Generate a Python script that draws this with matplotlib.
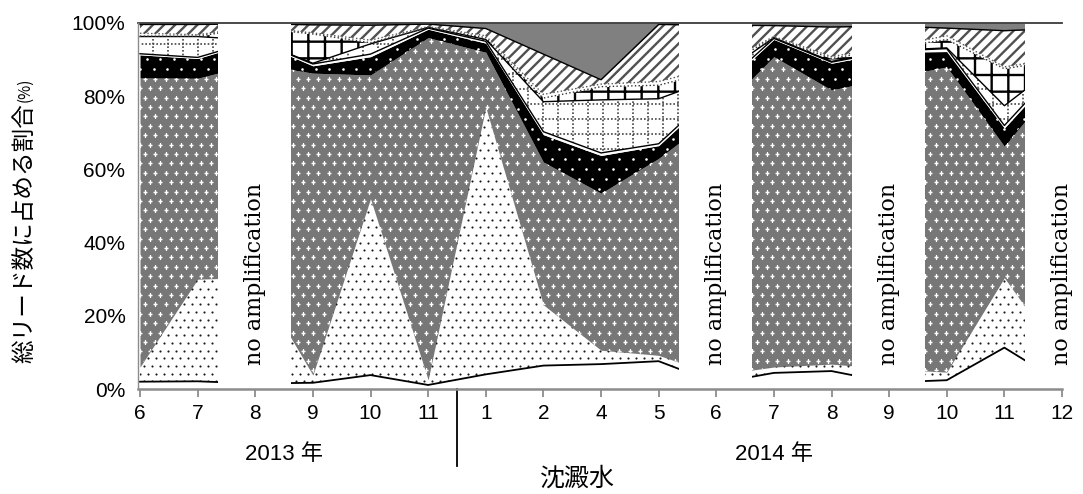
import numpy as np
import matplotlib
matplotlib.use("Agg")
import matplotlib.pyplot as plt
from matplotlib.collections import LineCollection

plt.rcParams["hatch.linewidth"] = 1.7

# ---- data -------------------------------------------------------------
months = ["6", "7", "8", "9", "10", "11", "1", "2", "4", "5",
          "6", "7", "8", "9", "10", "11", "12"]
years = ["2013 年", "2014 年"]
year_first = [0, 6]            # index of the first month of each year
no_amp = [2, 10, 13, 16]       # samples without amplification

# share of total reads (%) per taxon group, bottom to top of the stack
taxon_1 = [2.0, 2.1, 1.5, 1.7, 3.8, 1.1, 4.0, 6.4, 6.8, 7.6, 1.6, 4.4, 4.9, 1.8, 2.4, 11.3, 1.6]
taxon_2 = [4.0, 27.9, 29.0, 2.1, 48.2, 1.4, 73.0, 16.6, 3.8, 1.6, 2.2, 1.6, 1.9, 3.7, 2.2, 19.1, 6.7]
taxon_3 = [79.0, 54.9, 58.4, 82.5, 33.8, 93.5, 15.0, 39.0, 42.9, 53.8, 71.2, 84.8, 74.9, 79.5, 83.4, 35.9, 77.2]
taxon_4 = [6.3, 5.4, 6.1, 2.0, 5.0, 2.3, 2.5, 7.5, 10.3, 3.5, 6.0, 4.7, 7.3, 7.0, 4.2, 5.0, 3.0]
taxon_5 = [0.3, 0.3, 0.2, 0.5, 0.7, 0.3, 0.5, 0.8, 0.7, 0.5, 0.5, 0.3, 0.3, 0.3, 0.8, 0.7, 0.5]
taxon_6 = [4.7, 5.7, 0.1, 0.2, 2.8, 0.2, 0.5, 8.2, 14.5, 12.3, 3.5, 0.2, 0.2, 0.2, 0.2, 5.4, 0.5]
taxon_7 = [0.1, 0.1, 3.4, 8.0, 0.3, 0.0, 0.5, 1.0, 3.6, 3.7, 2.0, 0.0, 0.8, 0.5, 2.3, 10.1, 0.5]
taxon_8 = [0.8, 0.4, 0.2, 0.3, 0.7, 0.2, 0.5, 1.0, 0.7, 1.0, 1.0, 0.3, 0.5, 0.5, 1.0, 0.5, 0.5]
taxon_9 = [2.4, 2.8, 0.9, 2.2, 4.1, 0.7, 2.0, 11.0, 1.2, 15.6, 11.4, 3.0, 8.1, 5.7, 2.1, 9.9, 8.0]
taxon_10 = [0.4, 0.4, 0.2, 0.5, 0.6, 0.3, 1.5, 8.5, 15.5, 0.4, 0.6, 0.7, 1.1, 0.8, 1.4, 2.1, 1.5]

layers = [taxon_1, taxon_2, taxon_3, taxon_4, taxon_5,
          taxon_6, taxon_7, taxon_8, taxon_9, taxon_10]

# monochrome pattern fills, one per layer
#   marks: (marker, colour, size, dx px, dy px) on a staggered grid
#   grid:  (colour, line width, dash pattern, spacing px)
styles = [
    dict(fc="white", hc="black", hatch=None, marks=None, grid=None,
         line=("black", 1.3, "-")),
    dict(fc="white", hc="black", hatch=None, marks=("o", "#1a1a1a", 2.4, 8.0, 7.7),
         grid=None, line=None),
    dict(fc="#777777", hc="white", hatch=None, marks=("+", "white", 9, 10.2, 9.4),
         grid=None, line=None),
    dict(fc="black", hc="white", hatch=None, marks=("o", "white", 3.5, 13.5, 10.0),
         grid=None, line=None),
    dict(fc="white", hc="black", hatch=None, marks=None, grid=None,
         line=("black", 1.0, "-")),
    dict(fc="white", hc="black", hatch=None, marks=None,
         grid=("#444444", 1.2, (0, (1.0, 1.2)), 15.0), line=("black", 1.0, "-")),
    dict(fc="white", hc="black", hatch="+", marks=None, grid=None,
         line=("#333333", 1.0, ":")),
    dict(fc="white", hc="black", hatch=None, marks=None, grid=None,
         line=("#555555", 1.0, ":")),
    dict(fc="white", hc="#505050", hatch="///", marks=None, grid=None,
         line=("black", 1.0, "-")),
    dict(fc="#808080", hc="#808080", hatch=None, marks=None, grid=None, line=None),
]

sans = ["Liberation Sans Narrow", "Liberation Sans", "Noto Sans CJK JP"]
jp = ["Noto Sans CJK JP", "DejaVu Sans"]

# ---- figure -----------------------------------------------------------
W, H = 1083, 494
AX_L, AX_B, AX_W, AX_H = 138, 105, 924, 366
X0 = -0.035
fig = plt.figure(figsize=(W / 100, H / 100), dpi=100)
ax = fig.add_axes([AX_L / W, AX_B / H, AX_W / W, AX_H / H])
ax.set_xlim(X0, len(months) - 1)
ax.set_ylim(0, 100)

x = np.arange(len(months))
cum = np.cumsum(np.array(layers, dtype=float), axis=0)
base = np.vstack([np.zeros(len(months)), cum[:-1]])

px_x = AX_W / (len(months) - 1 - X0)   # pixels per month slot
px_y = AX_H / 100.0                     # pixels per percent


def clip_to(artist, poly):
    artist.set_clip_path(poly.get_paths()[0], ax.transData)


def pattern_marks(poly, marker, color, size, dx, dy):
    """Staggered grid of small marks clipped to an area polygon."""
    pts = []
    for r in range(int(AX_H / dy) + 2):
        off = dx / 2 if r % 2 else 0.0
        for c in np.arange(off + 2, AX_W - 6, dx):
            pts.append((X0 + c / px_x, r * dy / px_y))
    pts = np.array(pts)
    if marker == "+":
        sc = ax.scatter(pts[:, 0], pts[:, 1], marker="+", s=size, c=color,
                        linewidths=1.0, zorder=1.5)
    else:
        sc = ax.scatter(pts[:, 0], pts[:, 1], marker="o", s=size, c=color,
                        linewidths=0, zorder=1.5)
    clip_to(sc, poly)


def pattern_grid(poly, color, lw, dash, step):
    """Square grid of dotted lines clipped to an area polygon."""
    segs = []
    for c in np.arange(0, AX_W, step):
        xv = X0 + c / px_x
        segs.append([(xv, 0), (xv, 100)])
    for r in np.arange(0, AX_H, step):
        yv = r / px_y
        segs.append([(X0, yv), (len(months) - 1, yv)])
    lc = LineCollection(segs, colors=color, linewidths=lw, linestyles=[dash],
                        zorder=1.5)
    ax.add_collection(lc)
    clip_to(lc, poly)


for lo, hi, st in zip(base, cum, styles):
    pc = ax.fill_between(x, lo, hi, facecolor=st["fc"], edgecolor=st["hc"],
                         hatch=st["hatch"], linewidth=0, zorder=1)
    if st["marks"] is not None:
        pattern_marks(pc, *st["marks"])
    if st["grid"] is not None:
        pattern_grid(pc, *st["grid"])
    if st["line"] is not None:
        c, lw, ls = st["line"]
        ax.plot(x, hi, color=c, lw=lw, ls=ls, zorder=2)

# blank out the samples that gave no amplification
for g in no_amp:
    ax.axvspan(g - 0.64, g + 0.62, ymin=0, ymax=1, color="white", lw=0,
               zorder=4, clip_on=False)
    ax.text(g, 31.5, "no amplification", rotation=90, ha="center", va="center",
            family="DejaVu Serif", fontsize=16, zorder=7, clip_on=False)

ax.axhline(100, color="#3a3a3a", lw=1.3, zorder=6, clip_on=False)

for side in ("top", "right"):
    ax.spines[side].set_visible(False)
ax.spines["left"].set_color("#8c8c8c")
ax.spines["left"].set_linewidth(1.0)
ax.spines["bottom"].set_color("#8c8c8c")
ax.spines["bottom"].set_linewidth(1.8)
for s in ax.spines.values():
    s.set_zorder(6)

ax.set_xticks(x)
ax.set_xticklabels(months, family=sans, fontsize=15)
ax.tick_params(axis="x", length=6, width=1.3, color="#8c8c8c", pad=5)
yt = list(range(0, 101, 20))
ax.set_yticks(yt)
ax.set_yticklabels([f"{v}%" for v in yt], family=sans, fontsize=15)
ax.tick_params(axis="y", length=0, pad=9)

# year captions under the month labels, with a divider between the years
xa = ax.get_xaxis_transform()
bounds = year_first + [len(months)]
for i, label in enumerate(years):
    cx = (bounds[i] + bounds[i + 1] - 1) / 2
    ax.text(cx, -0.18, label, transform=xa, ha="center", va="center",
            family=sans, fontsize=16)
ax.plot([year_first[1] - 0.5] * 2, [0, -0.21], transform=xa, color="black",
        lw=1.3, clip_on=False)

fig.text(577 / W, 1 - 479 / H, "沈澱水", ha="center", va="center",
         family=jp, fontsize=18)

# y-axis title with a smaller unit part
ylab = fig.text(25 / W, 1 - 363 / H, "総リード数に占める割合", rotation=90,
                ha="center", va="bottom", family=jp, fontsize=17)
fig.canvas.draw()
bb = ylab.get_window_extent()
fig.text(25 / W, bb.y1 / H + 1 / H, "(%)", rotation=90, ha="center", va="bottom",
         family=jp, fontsize=11)

fig.savefig("out.png", dpi=100)
